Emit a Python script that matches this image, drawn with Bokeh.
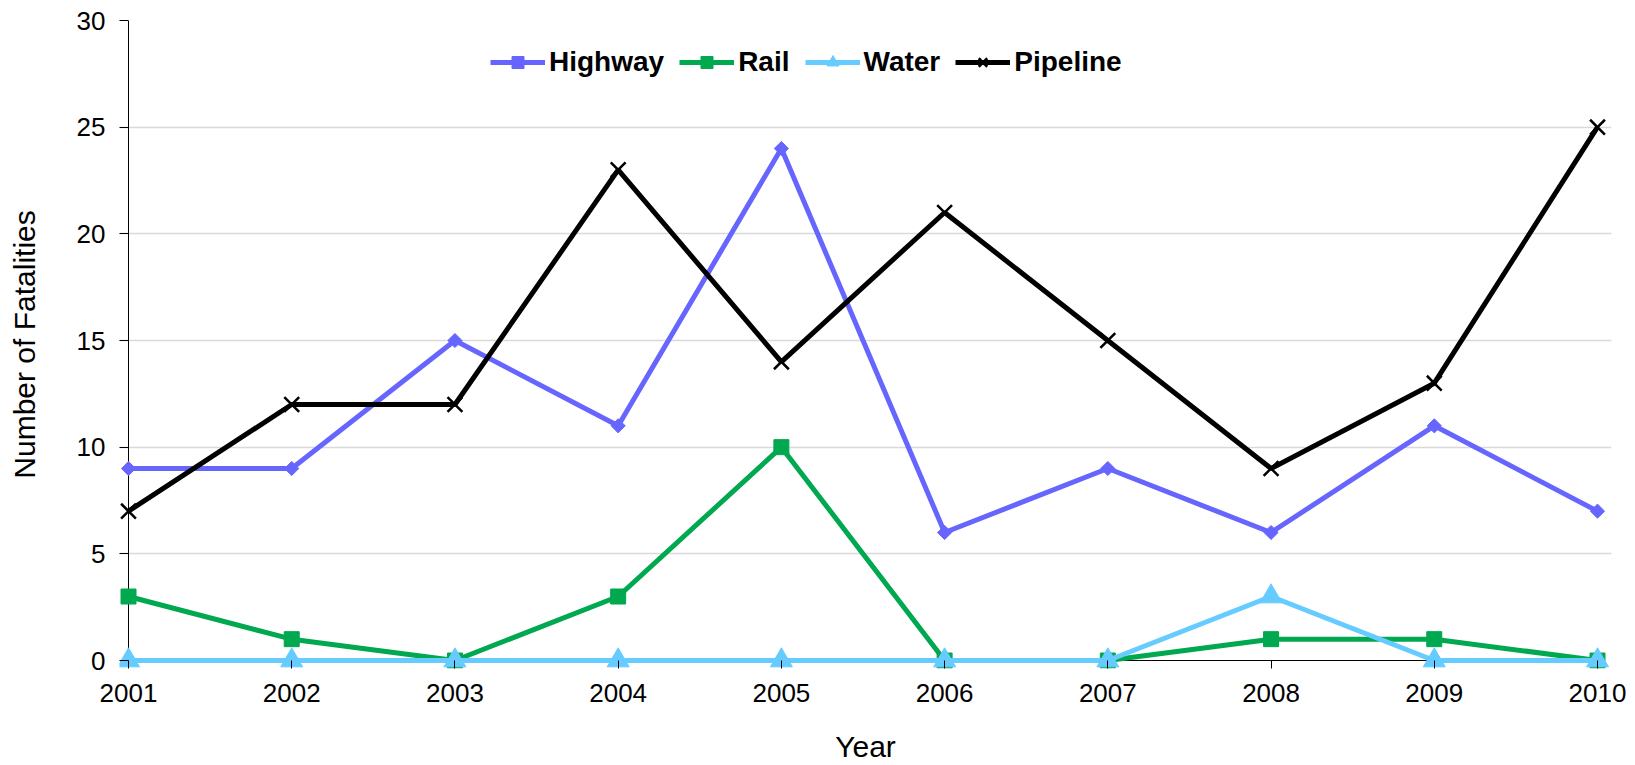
import math
from bokeh.plotting import figure
from bokeh.models import Range1d, FixedTicker, Legend, LegendItem
from bokeh.embed import file_html
from bokeh.resources import INLINE

# ---- data ----
years = [2001, 2002, 2003, 2004, 2005, 2006, 2007, 2008, 2009, 2010]
highway = [9, 9, 15, 11, 24, 6, 9, 6, 11, 7]
rail = [3, 1, 0, 3, 10, 0, 0, 1, 1, 0]
water = [0, 0, 0, 0, 0, 0, 0, 3, 0, 0]
pipeline = [7, 12, 12, 23, 14, 21, 15, 9, 13, 25]
y_ticks = [0, 5, 10, 15, 20, 25, 30]
series_names = ["Highway", "Rail", "Water", "Pipeline"]
x_title = "Year"
y_title = "Number of Fatalities"

FONT = "Liberation Sans"
W, H = 1635, 765

# pixel layout of the frame
AX_X = 128          # screen x of first year (y-axis line)
LAST_X = 1597       # screen x of last year
PAD_L, PAD_R = 9, 14
TOP_Y, ZERO_Y = 20, 660
PAD_B = 8

ppx = (LAST_X - AX_X) / (years[-1] - years[0])
ppy = (ZERO_Y - TOP_Y) / (y_ticks[-1] - y_ticks[0])

p = figure(width=W, height=H, output_backend="svg", toolbar_location=None,
           x_range=Range1d(years[0] - PAD_L / ppx, years[-1] + PAD_R / ppx),
           y_range=Range1d(y_ticks[0] - PAD_B / ppy, y_ticks[-1]),
           min_border_left=AX_X - PAD_L, min_border_right=W - (LAST_X + PAD_R),
           min_border_top=TOP_Y, min_border_bottom=H - (ZERO_Y + PAD_B))
p.title.visible = False
p.outline_line_color = None
p.background_fill_color = "white"
p.border_fill_color = "white"

# axes (ticks reach from the frame edge to the real axis line)
for ax in (p.xaxis[0], p.yaxis[0]):
    ax.axis_line_color = None
    ax.major_tick_line_color = "black"
    ax.major_tick_line_width = 1
    ax.major_tick_out = 0
    ax.minor_tick_out = 0
    ax.minor_tick_in = 0
    ax.minor_tick_line_color = None
    ax.major_label_text_font = FONT
    ax.major_label_text_font_size = "26px"
    ax.major_label_text_color = "black"
    ax.axis_label_text_font = FONT
    ax.axis_label_text_font_size = "30px"
    ax.axis_label_text_font_style = "normal"
    ax.axis_label_text_color = "black"

p.xaxis.major_tick_in = PAD_B
p.yaxis.major_tick_in = PAD_L
p.xaxis.major_label_standoff = 15
p.yaxis.major_label_standoff = 14
p.xaxis.ticker = FixedTicker(ticks=years)
p.yaxis.ticker = FixedTicker(ticks=y_ticks)
p.xaxis.axis_label = x_title
p.yaxis.axis_label = y_title
p.xaxis.axis_label_standoff = 25
p.yaxis.axis_label_standoff = 33

p.xgrid.visible = False
p.ygrid.ticker = FixedTicker(ticks=y_ticks[1:])
p.ygrid.bounds = (years[0], years[-1])
p.ygrid.grid_line_color = "#D9D9D9"
p.ygrid.grid_line_width = 1.5

# axis lines at the data origin
p.line([years[0], years[0]], [y_ticks[0], y_ticks[-1]], line_color="black", line_width=1)
p.line([years[0], years[-1]], [y_ticks[0], y_ticks[0]], line_color="black", line_width=1)

# series
colors = ["#6666FF", "#00A850", "#66CCFF", "#000000"]
data = [highway, rail, water, pipeline]
marker_specs = [
    dict(marker="square", size=10, angle=math.pi / 4),   # diamond
    dict(marker="square", size=15),
    dict(marker="triangle", size=22),
    dict(marker="x", size=21, line_width=2.5),
]

items = []
for name, vals, col, spec in zip(series_names, data, colors, marker_specs):
    ln = p.line(years, vals, line_color=col, line_width=5)
    if spec["marker"] == "x":
        sc = p.scatter(years, vals, line_color=col, **spec)
    else:
        sc = p.scatter(years, vals, fill_color=col, line_color=col, **spec)
    items.append(LegendItem(label=name, renderers=[ln, sc]))

frame_h = (ZERO_Y + PAD_B) - TOP_Y
legend = Legend(items=items, orientation="horizontal",
                location=(490 - (AX_X - PAD_L), frame_h - 28 - 30),
                padding=0, margin=0, spacing=15, glyph_width=55, glyph_height=30,
                label_height=30, label_standoff=4, label_text_font=FONT,
                label_text_font_size="28px", label_text_font_style="bold",
                label_text_color="black", border_line_color=None,
                background_fill_alpha=0)
p.add_layout(legend)

open("out.html", "w").write(file_html(p, INLINE))
